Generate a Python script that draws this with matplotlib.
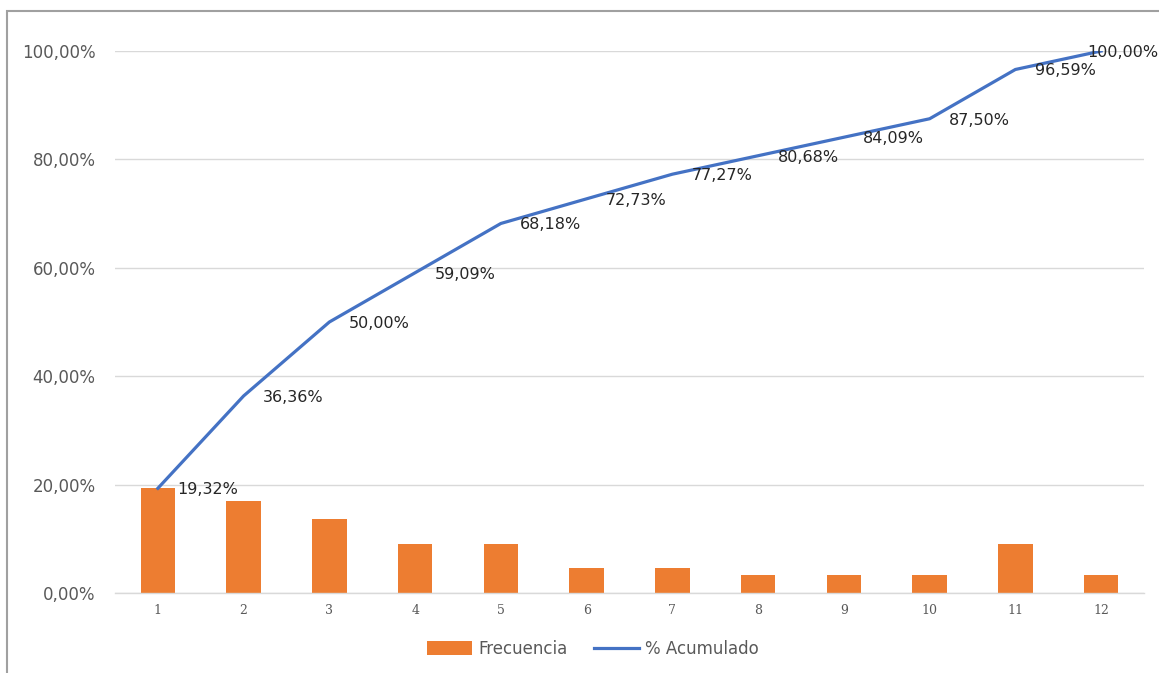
import numpy as np
import matplotlib
matplotlib.use('Agg')
import matplotlib.pyplot as plt
from matplotlib.patches import Rectangle

plt.rcParams['font.family'] = ['DejaVu Sans']

# datos (porcentajes)
categorias = [1, 2, 3, 4, 5, 6, 7, 8, 9, 10, 11, 12]
frecuencia = [19.32, 17.05, 13.64, 9.09, 9.09, 4.55, 4.55, 3.41, 3.41, 3.41, 9.09, 3.41]
acumulado = [19.32, 36.36, 50.00, 59.09, 68.18, 72.73, 77.27, 80.68, 84.09, 87.50, 96.59, 100.00]
yticks = [0, 20, 40, 60, 80, 100]

W, H = 1159, 673
fig = plt.figure(figsize=(W / 100, H / 100), dpi=100)

# borde del area del grafico (cortado a la derecha y abajo)
fig.patches.append(Rectangle((7 / W, -0.1), 1.2, 1.1 - 11 / H, transform=fig.transFigure,
                             fill=False, edgecolor='#a0a0a0', linewidth=1.5))

ax = fig.add_axes([115 / W, 1 - 593 / H, (1144 - 115) / W, (593 - 51) / H])

x = np.arange(len(categorias))
barras = ax.bar(x, frecuencia, width=0.40, color='#ED7D31', label='Frecuencia', zorder=2)
linea, = ax.plot(x, acumulado, color='#4472C4', linewidth=2.3, label='% Acumulado', zorder=3)

for i, (xi, v) in enumerate(zip(x, acumulado)):
    dx = 14 if i < len(acumulado) - 1 else -10  # la ultima etiqueta se ajusta al borde
    ax.annotate(f"{v:.2f}".replace('.', ',') + '%', (xi, v), xytext=(dx, -1),
                textcoords='offset points', ha='left', va='center',
                fontsize=11.5, color='#262626', annotation_clip=False)

ax.set_xlim(-0.5, len(categorias) - 0.5)
ax.set_ylim(0, 100)
ax.set_yticks(yticks)
ax.set_yticklabels([f"{t:.2f}".replace('.', ',') + '%' for t in yticks],
                   fontsize=12, color='#595959')
ax.set_xticks(x)
ax.set_xticklabels([str(c) for c in categorias], fontsize=9, color='#595959',
                   family='DejaVu Serif')
ax.tick_params(axis='both', length=0)
ax.tick_params(axis='y', pad=14)
ax.tick_params(axis='x', pad=8)

ax.grid(axis='y', color='#d9d9d9', linewidth=1, zorder=0)
ax.set_axisbelow(True)
for s in ['top', 'right', 'left']:
    ax.spines[s].set_visible(False)
ax.spines['bottom'].set_color('#d9d9d9')
ax.spines['bottom'].set_linewidth(1)

fig.legend([barras, linea], ['Frecuencia', '% Acumulado'], loc='center',
           bbox_to_anchor=(593 / W, 1 - 649 / H), ncol=2, frameon=False,
           fontsize=12, labelcolor='#595959', handlelength=2.7, handleheight=0.9,
           columnspacing=1.6, handletextpad=0.35)

fig.savefig('out.png', dpi=100)
